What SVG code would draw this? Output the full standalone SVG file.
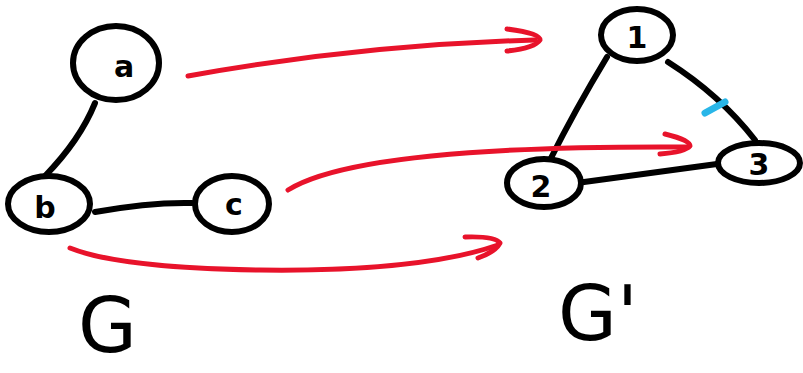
<svg xmlns="http://www.w3.org/2000/svg" width="803" height="373" viewBox="0 0 803 373">
<style>
.node{fill:#fff;stroke:#000;stroke-width:6}
.edge{fill:none;stroke:#000;stroke-width:6;stroke-linecap:round}
.map{fill:none;stroke:#e8132b;stroke-width:5;stroke-linecap:round;stroke-linejoin:round}
.lbl{font-family:"DejaVu Sans",sans-serif;font-weight:bold;font-size:30px;text-anchor:middle;fill:#000}
.big{font-family:"DejaVu Sans",sans-serif;font-size:76px;fill:#000}
</style>
<rect width="803" height="373" fill="#fff"/>
<g id="edges">
<path class="edge" d="M95,103 Q80,140 45,176"/>
<path class="edge" d="M95,212 Q150,202 192,203"/>
<path class="edge" d="M607,57 Q575,110 550,160"/>
<path class="edge" d="M668,62 Q720,95 755,140"/>
<path class="edge" d="M584,182 L717,164"/>
<path d="M705,113 L725,102" fill="none" stroke="#29b6e8" stroke-width="7" stroke-linecap="round"/>
</g>
<g id="mappings">
<path class="map" d="M188,76 Q360,45 535,40"/>
<path class="map" d="M507,29 Q540,33 540,40 Q535,48 507,51"/>
<path class="map" d="M288,190 Q360,145 688,147"/>
<path class="map" d="M665,134 Q690,140 690,146 Q685,152 660,154"/>
<path class="map" d="M70,248 Q120,268 260,270 Q420,272 498,245"/>
<path class="map" d="M465,237 Q495,236 500,243 Q495,252 478,258"/>
</g>
<g id="node-a"><ellipse class="node" cx="116" cy="63" rx="43" ry="37"/><text class="lbl" x="124" y="77">a</text></g>
<g id="node-b"><ellipse class="node" cx="49" cy="204" rx="41" ry="28"/><text class="lbl" x="45" y="218">b</text></g>
<g id="node-c"><ellipse class="node" cx="232" cy="204" rx="37" ry="28"/><text class="lbl" x="234" y="215">c</text></g>
<g id="node-1"><ellipse class="node" cx="637" cy="35" rx="36" ry="26"/><text class="lbl" x="637" y="48">1</text></g>
<g id="node-2"><ellipse class="node" cx="544" cy="183" rx="37" ry="24"/><text class="lbl" x="541" y="197">2</text></g>
<g id="node-3"><ellipse class="node" cx="759" cy="163" rx="41" ry="20"/><text class="lbl" x="759" y="175">3</text></g>
<g id="labels">
<text class="big" x="78" y="352">G</text>
<text class="big" x="558" y="340">G'</text>
</g>
</svg>
